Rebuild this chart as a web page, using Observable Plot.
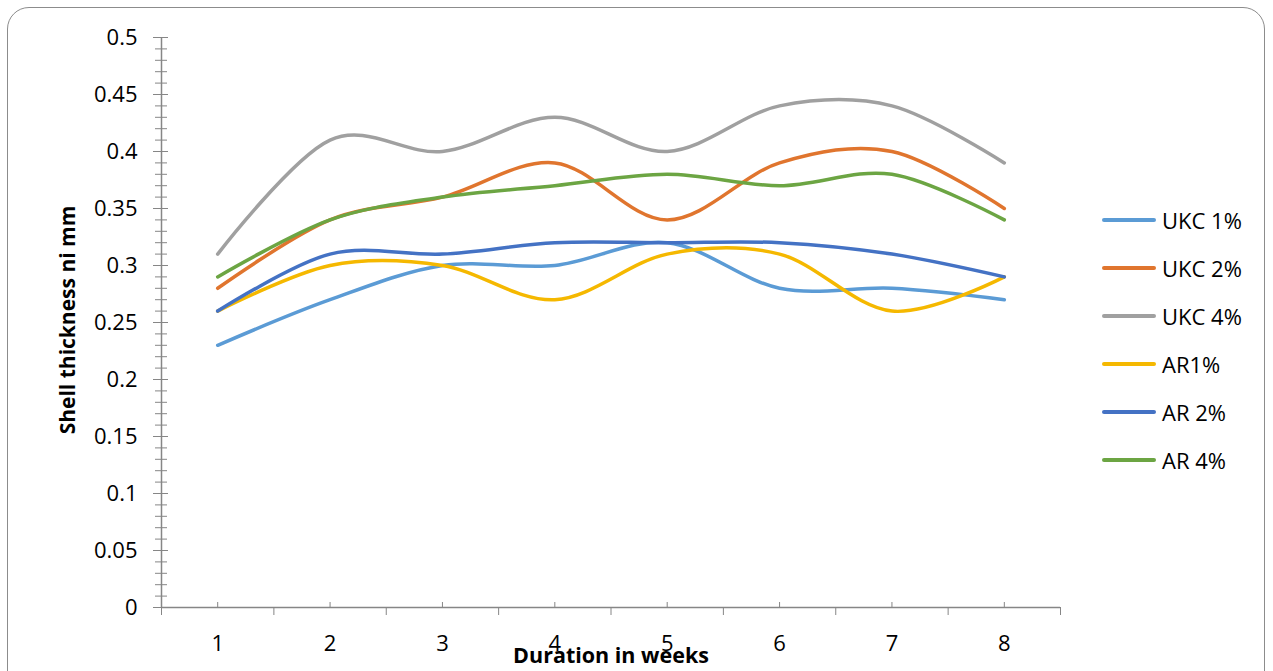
<!DOCTYPE html>
<html>
<head>
<meta charset="utf-8">
<script src="https://cdn.jsdelivr.net/npm/d3@7"></script>
<script src="https://cdn.jsdelivr.net/npm/@observablehq/plot@0.6"></script>
<style>
  html, body { margin: 0; padding: 0; background: #fff; overflow: hidden; }
  #wrap { position: relative; width: 1273px; height: 671px; font-family: "Open Sans", sans-serif; }
  #frame { position: absolute; left: 7px; top: 7px; width: 1258px; height: 690px; border: 1px solid #8c8c8c; border-radius: 22px; box-sizing: border-box; }
  #chart { position: absolute; left: 0; top: 0; }
  #ytitle { position: absolute; left: 67px; top: 320px; transform: translate(-50%, -50%) rotate(-90deg); font-weight: bold; font-size: 21px; white-space: nowrap; color: #000; }
  #xtitle { position: absolute; left: 611px; top: 654px; transform: translate(-50%, -50%); font-weight: bold; font-size: 21.5px; white-space: nowrap; color: #000; }
  #legend { position: absolute; left: 1102px; top: 196px; font-size: 22px; color: #000; }
  .li { display: flex; align-items: center; height: 48px; }
  .sw { width: 54px; height: 3.5px; border-radius: 2px; margin-right: 6px; }
</style>
</head>
<body>
<div id="wrap">
  <div id="frame"></div>
  <div id="chart"></div>
  <div id="ytitle">Shell thickness ni mm</div>
  <div id="xtitle">Duration in weeks</div>
  <div id="legend"></div>
</div>
<script>
const weeks = [1, 2, 3, 4, 5, 6, 7, 8];
const seriesNames = ["UKC 1%", "UKC 2%", "UKC 4%", "AR1%", "AR 2%", "AR 4%"];
const seriesColors = ["#5B9BD5", "#E0752E", "#A0A0A0", "#F5B800", "#4472C4", "#6CA543"];
const ukc1 = [0.23, 0.27, 0.30, 0.30, 0.32, 0.28, 0.28, 0.27];
const ukc2 = [0.28, 0.34, 0.36, 0.39, 0.34, 0.39, 0.40, 0.35];
const ukc4 = [0.31, 0.41, 0.40, 0.43, 0.40, 0.44, 0.44, 0.39];
const ar1  = [0.26, 0.30, 0.30, 0.27, 0.31, 0.31, 0.26, 0.29];
const ar2  = [0.26, 0.31, 0.31, 0.32, 0.32, 0.32, 0.31, 0.29];
const ar4  = [0.29, 0.34, 0.36, 0.37, 0.38, 0.37, 0.38, 0.34];
const yMajorTicks = [0, 0.05, 0.1, 0.15, 0.2, 0.25, 0.3, 0.35, 0.4, 0.45, 0.5];
const yMinorTicks = d3.range(0, 51).map(i => i / 100);
const xBoundaryTicks = [0.5, 1.5, 2.5, 3.5, 4.5, 5.5, 6.5, 7.5, 8.5];

const seriesValues = [ukc1, ukc2, ukc4, ar1, ar2, ar4];
const rows = [];
seriesNames.forEach((name, i) => {
  weeks.forEach((w, j) => rows.push({series: name, week: w, value: seriesValues[i][j]}));
});

const axisColor = "#868686";
const chart = Plot.plot({
  width: 1273,
  height: 671,
  marginLeft: 161,
  marginRight: 213,
  marginTop: 37,
  marginBottom: 64,
  style: {fontFamily: "Open Sans, sans-serif", fontSize: "22px", color: "#000", background: "transparent", overflow: "visible"},
  x: {domain: [0.5, 8.5], axis: null},
  y: {domain: [0, 0.5], axis: null},
  color: {domain: seriesNames, range: seriesColors},
  marks: [
    Plot.ruleY([0], {stroke: axisColor, strokeWidth: 1.5}),
    Plot.ruleX([0.5], {stroke: axisColor, strokeWidth: 1.5}),
    Plot.axisY({ticks: yMinorTicks, tickSize: 12, dx: 6, tickFormat: () => "", label: null, stroke: axisColor}),
    Plot.axisY({ticks: yMajorTicks, tickSize: 15, dx: 7, tickFormat: () => "", label: null, stroke: axisColor}),
    Plot.axisY({ticks: yMajorTicks, tickSize: 0, tickPadding: 24, tickFormat: d => String(+d.toFixed(2)), label: null}),
    Plot.axisX({ticks: xBoundaryTicks, tickSize: 8, tickFormat: () => "", label: null, stroke: axisColor}),
    Plot.axisX({ticks: weeks, tickSize: 5, dy: -5, tickFormat: () => "", label: null, stroke: axisColor}),
    Plot.axisX({ticks: weeks, tickSize: 0, tickPadding: 28, tickFormat: d => String(d), label: null}),
    Plot.line(rows, {x: "week", y: "value", z: "series", stroke: "series", curve: "cardinal", strokeWidth: 3.5, strokeLinecap: "round"})
  ]
});
document.getElementById("chart").appendChild(chart);

const legend = document.getElementById("legend");
seriesNames.forEach((name, i) => {
  const row = document.createElement("div");
  row.className = "li";
  const sw = document.createElement("div");
  sw.className = "sw";
  sw.style.background = seriesColors[i];
  const t = document.createElement("span");
  t.textContent = name;
  row.appendChild(sw);
  row.appendChild(t);
  legend.appendChild(row);
});
</script>
</body>
</html>
